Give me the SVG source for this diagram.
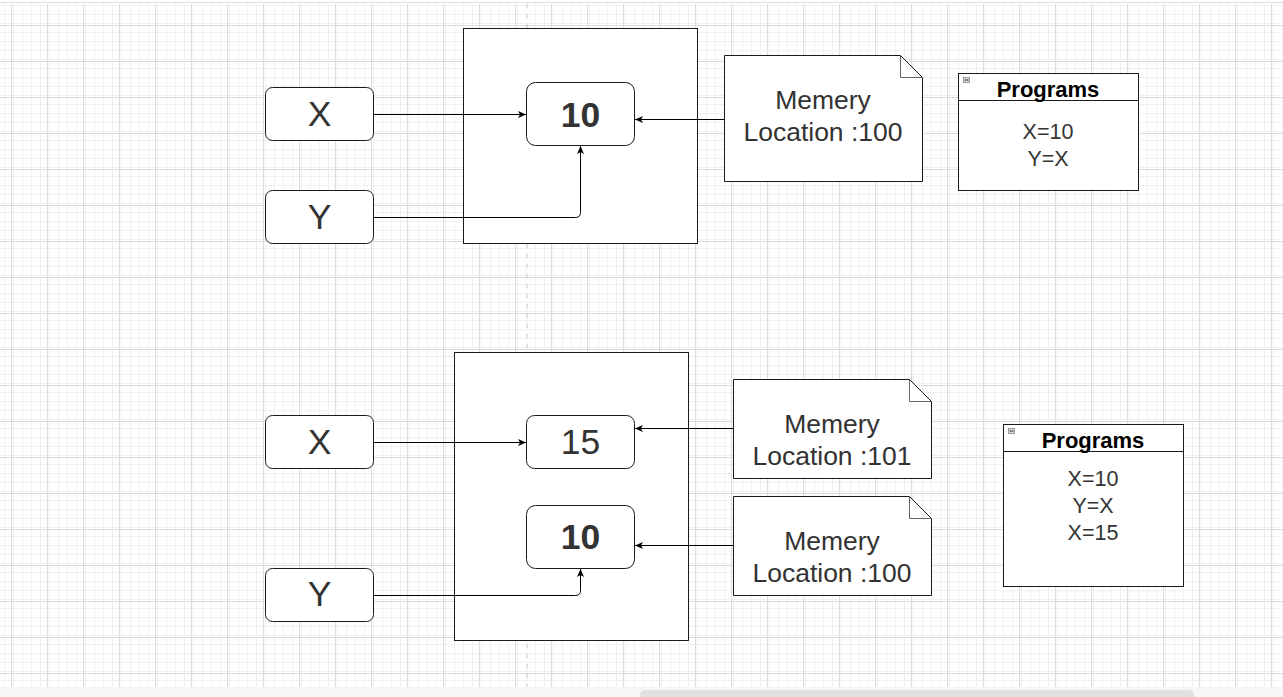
<svg xmlns="http://www.w3.org/2000/svg" width="1283" height="697" viewBox="0 0 1283 697">
<defs>
<pattern id="minor" width="9" height="9" patternUnits="userSpaceOnUse" x="11" y="25">
<path d="M0.5,0 V9 M0,0.5 H9" stroke="#f1f1f1" stroke-width="1" fill="none"/>
</pattern>
<pattern id="major" width="36" height="36" patternUnits="userSpaceOnUse" x="11" y="25">
<rect width="36" height="36" fill="url(#minor)"/>
<path d="M0.5,0 V36 M0,0.5 H36" stroke="#dcdcdc" stroke-width="1" fill="none"/>
</pattern>
<marker id="arr" markerWidth="9" markerHeight="8" refX="8" refY="4" orient="auto" markerUnits="userSpaceOnUse">
<path d="M0,0.5 L8,4 L0,7.5 L2,4 Z" fill="#000"/>
</marker>
</defs>
<style>
.box{fill:#fff;stroke:#1a1a1a;stroke-width:1}
.lbl{font-family:"Liberation Sans",Arial,sans-serif;fill:#333;text-anchor:middle}
.big{font-size:35.5px}
.bold{font-weight:bold}
.note{font-size:26.5px}
.prog{font-size:21.5px}
.title{font-family:"Liberation Sans",Arial,sans-serif;font-size:22px;font-weight:bold;fill:#000;text-anchor:middle}
.fold{fill:none;stroke:#666;stroke-width:1}
.edge{fill:none;stroke:#000;stroke-width:1;marker-end:url(#arr)}
.icon{fill:#d8d8d8;stroke:#888;stroke-width:0.8}
</style>
<rect x="0" y="0" width="1283" height="697" fill="#fff"/>
<rect x="0" y="4" width="1283" height="683" fill="url(#major)"/>
<line x1="0" y1="2.5" x2="1283" y2="2.5" stroke="#dedede"/>
<rect x="0" y="687" width="1283" height="10" fill="#f6f6f6"/>
<rect x="640" y="690" width="554" height="12" rx="5" fill="#e0e0e0"/>
<line x1="527" y1="4" x2="527" y2="687" stroke="#c8c8c8" stroke-dasharray="4 6"/>

<g id="top-container"><rect class="box" x="463.5" y="28.5" width="234" height="215"/></g>
<g id="top-x"><rect class="box" x="265.5" y="87.5" width="108" height="53" rx="7"/><text class="lbl big" x="319.5" y="126">X</text></g>
<g id="top-y"><rect class="box" x="265.5" y="190.5" width="108" height="53" rx="7"/><text class="lbl big" x="319.5" y="229">Y</text></g>
<g id="top-10"><rect class="box" x="526.5" y="82.5" width="108" height="63" rx="9"/><text class="lbl big bold" x="580.5" y="126.5">10</text></g>
<g id="top-note"><path class="box" d="M724.5,55.5 H900.5 L922.5,77.5 V181.5 H724.5 Z"/><path class="fold" d="M900.5,55.5 V77.5 H922.5"/><text class="lbl note" x="823" y="108.5">Memery</text><text class="lbl note" x="823" y="140.5">Location :100</text></g>
<g id="top-programs"><rect class="box" x="958.5" y="73.5" width="180" height="117"/><line x1="958.5" y1="100.5" x2="1138.5" y2="100.5" stroke="#1a1a1a"/><rect class="icon" x="963.5" y="77.5" width="6" height="5"/><line x1="964.5" y1="80" x2="968.5" y2="80" stroke="#333"/><text class="title" x="1048" y="96.5">Programs</text><text class="lbl prog" x="1048" y="138.5">X=10</text><text class="lbl prog" x="1048" y="165.5">Y=X</text></g>

<g id="bot-container"><rect class="box" x="454.5" y="352.5" width="234" height="288"/></g>
<g id="bot-x"><rect class="box" x="265.5" y="415.5" width="108" height="53" rx="7"/><text class="lbl big" x="319.5" y="453.5">X</text></g>
<g id="bot-y"><rect class="box" x="265.5" y="568.5" width="108" height="53" rx="7"/><text class="lbl big" x="319.5" y="606">Y</text></g>
<g id="bot-15"><rect class="box" x="526.5" y="415.5" width="108" height="53" rx="8"/><text class="lbl big" x="580.5" y="453.5">15</text></g>
<g id="bot-10"><rect class="box" x="526.5" y="505.5" width="108" height="63" rx="9"/><text class="lbl big bold" x="580.5" y="548.5">10</text></g>
<g id="bot-note1"><path class="box" d="M733.5,379.5 H909.5 L931.5,401.5 V478.5 H733.5 Z"/><path class="fold" d="M909.5,379.5 V401.5 H931.5"/><text class="lbl note" x="832" y="432.5">Memery</text><text class="lbl note" x="832" y="464.5">Location :101</text></g>
<g id="bot-note2"><path class="box" d="M733.5,496.5 H909.5 L931.5,518.5 V595.5 H733.5 Z"/><path class="fold" d="M909.5,496.5 V518.5 H931.5"/><text class="lbl note" x="832" y="550">Memery</text><text class="lbl note" x="832" y="581.5">Location :100</text></g>
<g id="bot-programs"><rect class="box" x="1003.5" y="424.5" width="180" height="162"/><line x1="1003.5" y1="451.5" x2="1183.5" y2="451.5" stroke="#1a1a1a"/><rect class="icon" x="1008.5" y="428.5" width="6" height="5"/><line x1="1009.5" y1="431" x2="1013.5" y2="431" stroke="#333"/><text class="title" x="1093" y="447.5">Programs</text><text class="lbl prog" x="1093" y="485.5">X=10</text><text class="lbl prog" x="1093" y="512.5">Y=X</text><text class="lbl prog" x="1093" y="539.5">X=15</text></g>

<g id="connectors">
<path class="edge" d="M373.5,114.5 H526"/>
<path class="edge" d="M373.5,217.5 H575.5 Q580.5,217.5 580.5,212.5 V146"/>
<path class="edge" d="M724,119.5 H635"/>
<path class="edge" d="M373.5,442.5 H526"/>
<path class="edge" d="M373.5,595.5 H575.5 Q580.5,595.5 580.5,590.5 V569"/>
<path class="edge" d="M733,428.5 H635"/>
<path class="edge" d="M733,545.5 H635"/>
</g>
</svg>
